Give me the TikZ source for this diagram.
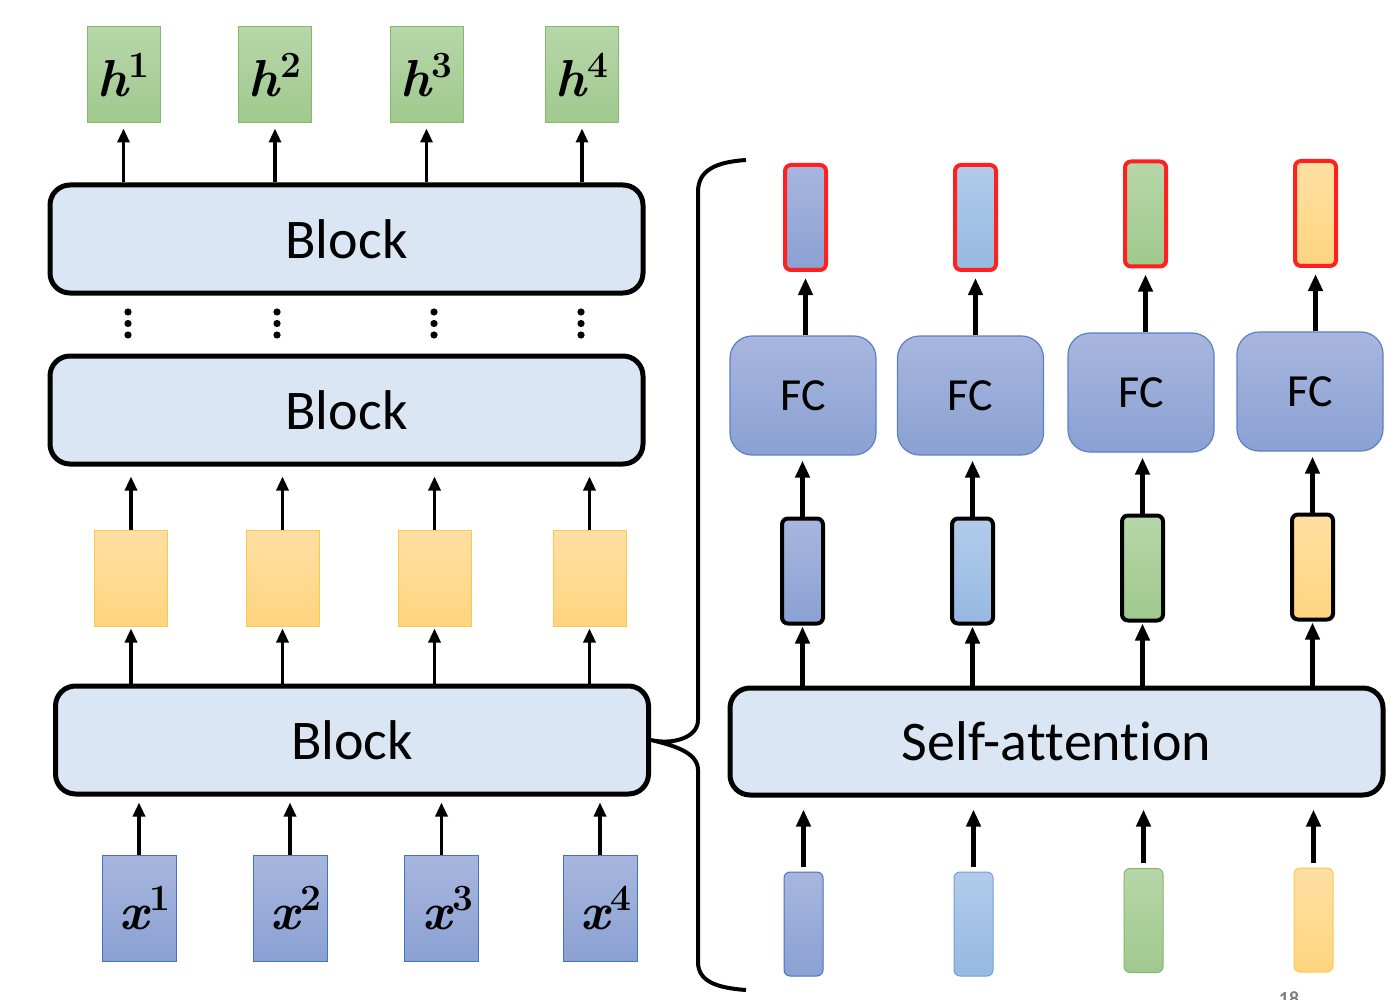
\documentclass[tikz,border=0pt]{standalone}
\usepackage{fontspec}
\setsansfont{Carlito}[Ligatures={NoCommon}]
\usetikzlibrary{arrows.meta}
\newcommand{\vsym}[2]{{\bfseries\itshape #1}\kern1pt\raisebox{19pt}{\fontsize{37}{37}\selectfont\bfseries #2}}
\definecolor{blockfill}{RGB}{218,230,244}
\definecolor{gtop}{RGB}{183,214,169}
\definecolor{gbot}{RGB}{160,201,142}
\definecolor{gborder}{RGB}{130,185,106}
\definecolor{ytop}{RGB}{255,224,163}
\definecolor{ybot}{RGB}{255,212,127}
\definecolor{yborder}{RGB}{250,200,80}
\definecolor{btop}{RGB}{168,182,222}
\definecolor{bbot}{RGB}{138,161,211}
\definecolor{bborder}{RGB}{68,114,196}
\definecolor{ltop}{RGB}{178,203,233}
\definecolor{lbot}{RGB}{150,185,226}
\definecolor{lborder}{RGB}{111,160,218}
\definecolor{fcborder}{RGB}{91,127,201}
\definecolor{redb}{RGB}{255,32,32}
\begin{document}
\begin{tikzpicture}[x=1pt,y=-1pt,
  blk/.style={draw=black, line width=5pt, rounded corners=20pt, fill=blockfill,
    minimum height=108pt, inner sep=0pt, font=\sffamily\fontsize{56}{60}\selectfont},
  mathbox/.style={line width=1pt, minimum width=73pt, inner sep=0pt,
    font=\fontsize{52}{52}\selectfont},
  hbox/.style={mathbox, draw=gborder, top color=gtop, bottom color=gbot, minimum height=96pt},
  ybox/.style={mathbox, draw=yborder, top color=ytop, bottom color=ybot, minimum height=96pt},
  xbox/.style={mathbox, draw=bborder, top color=btop, bottom color=bbot, minimum width=74pt, minimum height=106pt},
  fcbox/.style={draw=fcborder, line width=1.2pt, top color=btop, bottom color=bbot, rounded corners=22pt,
    minimum width=146pt, minimum height=119pt, inner sep=0pt, font=\sffamily\fontsize{46}{50}\selectfont},
  vec/.style={minimum width=41pt, minimum height=105pt, inner sep=0pt, rounded corners=6pt},
  vred/.style={vec, draw=redb, line width=4pt},
  vblack/.style={vec, draw=black, line width=4pt},
  vthin/.style={vec, line width=1pt, minimum width=39pt, minimum height=104pt},
  cblue/.style={top color=btop, bottom color=bbot},
  clight/.style={top color=ltop, bottom color=lbot},
  cgreen/.style={top color=gtop, bottom color=gbot},
  cyellow/.style={top color=ytop, bottom color=ybot},
  arrL/.style={line width=3.2pt, -{Triangle[width=12pt,length=14pt]}},
  arrR/.style={line width=4.5pt, -{Triangle[width=14pt,length=17pt]}},
  brace/.style={line width=4pt}
]
\useasboundingbox (0,0) rectangle (1386,1000);

% ---------- left column ----------
\node[hbox] (h1) at (123.5,75) {\vsym{h}{1}};
\node[hbox] (h2) at (275,75) {\vsym{h}{2}};
\node[hbox] (h3) at (426.5,75) {\vsym{h}{3}};
\node[hbox] (h4) at (582,75) {\vsym{h}{4}};

\node[blk, minimum width=593pt] (blk3) at (346.5,239) {Block};
\node[blk, minimum width=593pt] (blk2) at (346.5,410) {Block};
\node[blk, minimum width=593pt] (blk1) at (352,740) {Block};

\foreach \xx in {128,277,434,581}{
  \fill (\xx,312) circle (3.6pt);
  \fill (\xx,323.5) circle (3.6pt);
  \fill (\xx,335) circle (3.6pt);
}

\node[ybox] (y1) at (131,578) {};
\node[ybox] (y2) at (282.5,578) {};
\node[ybox] (y3) at (434.5,578) {};
\node[ybox] (y4) at (589.5,578) {};

\node[xbox] (x1) at (139,908) {\hspace*{12pt}\raisebox{-12pt}{\vsym{x}{1}}};
\node[xbox] (x2) at (290,908) {\hspace*{12pt}\raisebox{-12pt}{\vsym{x}{2}}};
\node[xbox] (x3) at (441.5,908) {\hspace*{12pt}\raisebox{-12pt}{\vsym{x}{3}}};
\node[xbox] (x4) at (600,908) {\hspace*{12pt}\raisebox{-12pt}{\vsym{x}{4}}};

\foreach \i in {1,2,3,4}{
  \draw[arrL, shorten >=5pt] (blk3.north -| h\i) -- (h\i.south);
  \draw[arrL, shorten >=10pt] (y\i.north) -- (blk2.south -| y\i);
  \draw[arrL, shorten >=2pt] (blk1.north -| y\i) -- (y\i.south);
  \draw[arrL, shorten >=6pt] (x\i.north) -- (blk1.south -| x\i);
}

% ---------- brace ----------
\coordinate (bt) at (746,160);
\coordinate (bb) at (746,990);
\draw[brace] (bt) .. controls (716,162) and (698,170) .. (698,192)
  -- (698,720) .. controls (698,738) and (672,745) .. (blk1.east)
  (blk1.east) .. controls (672,745) and (698,752) .. (698,770)
  -- (698,962) .. controls (698,982) and (718,988) .. (bb);

% ---------- right column ----------
\node[vred, cblue] (r1) at (805.5,217.5) {};
\node[vred, clight] (r2) at (975.5,217.5) {};
\node[vred, cgreen] (r3) at (1145.5,214) {};
\node[vred, cyellow] (r4) at (1315.5,213.5) {};

\node[fcbox] (fc1) at (803,395.5) {FC};
\node[fcbox] (fc2) at (970.5,395.5) {FC};
\node[fcbox] (fc3) at (1141,392.5) {FC};
\node[fcbox] (fc4) at (1310,391.5) {FC};

\node[vblack, cblue] (b1) at (802.5,571) {};
\node[vblack, clight] (b2) at (972.5,571) {};
\node[vblack, cgreen] (b3) at (1142.5,568) {};
\node[vblack, cyellow] (b4) at (1312.5,567) {};

\node[blk, minimum width=653pt, minimum height=107pt] (sa) at (1056.5,741.5) {Self-at\kern0pt tent\kern0pt ion};

\node[vthin, cblue, draw=bborder] (v1) at (803.5,924) {};
\node[vthin, clight, draw=lborder] (v2) at (973.5,924) {};
\node[vthin, cgreen, draw=gborder] (v3) at (1143.5,920.5) {};
\node[vthin, cyellow, draw=yborder] (v4) at (1313.5,920) {};

\foreach \i in {1,2,3,4}{
  \draw[arrR, shorten >=6pt] (fc\i.north -| r\i) -- (r\i.south);
  \draw[arrR, shorten >=5pt] (b\i.north) -- (fc\i.south -| b\i);
  \draw[arrR, shorten >=1pt] (sa.north -| b\i) -- (b\i.south);
  \draw[arrR, shorten <=5pt, shorten >=12pt] (v\i.north) -- (sa.south -| v\i);
}

\node[anchor=north, font=\sffamily\bfseries\fontsize{20}{20}\selectfont, text=black!50] (pg) at (1289,988) {18};
\end{tikzpicture}
\end{document}
